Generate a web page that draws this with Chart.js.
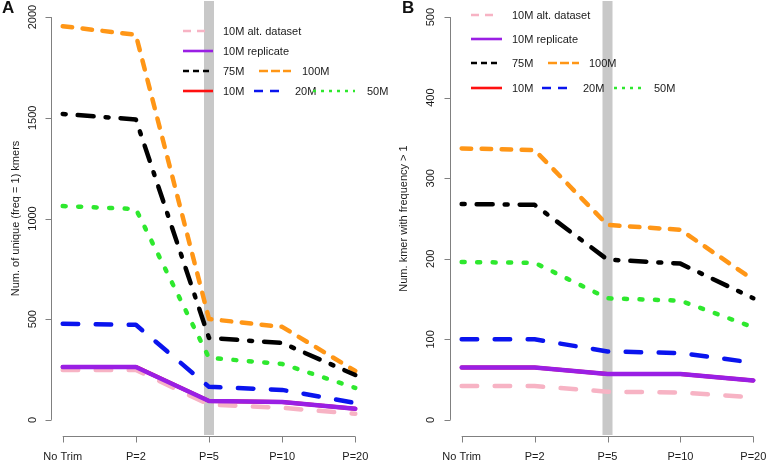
<!DOCTYPE html>
<html>
<head>
<meta charset="utf-8">
<script src="https://cdn.jsdelivr.net/npm/chart.js@4.4.0/dist/chart.umd.min.js"></script>
<style>
  html,body{margin:0;padding:0;background:#fff;}
  #wrap{position:relative;width:767px;height:462px;overflow:hidden;}
  .panel{position:absolute;top:0;height:462px;}
  #panelA{left:0;width:400px;}
  #panelB{left:383px;width:384px;}
  .tag{position:absolute;top:-2px;font:bold 17px "Liberation Sans",Arial,sans-serif;color:#111;}
</style>
</head>
<body>
<div id="wrap">
  <div class="panel" id="panelA"><canvas id="chartA"></canvas></div>
  <div class="panel" id="panelB"><canvas id="chartB"></canvas></div>
  <div class="tag" style="left:2px;">A</div>
  <div class="tag" style="left:402px;">B</div>
</div>
<script>
// trimming settings on the x axis
const categories = ['No Trim', 'P=2', 'P=5', 'P=10', 'P=20'];

// panel A: number of unique (freq = 1) kmers
const uniqueAlt  = [248, 248, 76, 60, 30];
const uniqueRep  = [263, 263, 94, 89, 55];
const unique10M  = [263, 263, 94, 89, 55];
const unique20M  = [477, 472, 164, 149, 84];
const unique50M  = [1062, 1047, 308, 278, 159];
const unique75M  = [1519, 1492, 407, 382, 223];
const unique100M = [1955, 1912, 501, 462, 243];
const uniqueTicks = [0, 500, 1000, 1500, 2000];

// panel B: number of kmers with frequency > 1
const multiAlt  = [42, 42, 35, 34, 28];
const multiRep  = [65, 65, 57, 57, 49];
const multi10M  = [65, 65, 57, 57, 49];
const multi20M  = [100, 100, 85, 83, 71];
const multi50M  = [196, 195, 151, 148, 115];
const multi75M  = [268, 267, 199, 194, 151];
const multi100M = [337, 335, 242, 236, 174];
const multiTicks = [0, 100, 200, 300, 400, 500];

// draw order: first one ends up on top
const seriesNames = ['10M replicate', '10M alt. dataset', '10M', '20M', '50M', '75M', '100M'];

const styles = {
  '10M replicate':    {color:'#9a1fe4', width:4.5, dash:[],              legendDash:[]},
  '10M alt. dataset': {color:'#f7b3c4', width:4.5, dash:[15.5,17.5],     legendDash:[8,6]},
  '10M':              {color:'#ff1010', width:4,   dash:[],              legendDash:[]},
  '20M':              {color:'#0a14ee', width:4.5, dash:[15.5,17.5],     legendDash:[9,7]},
  '50M':              {color:'#2ee82e', width:4.5, dash:[3,12.5],        legendDash:[3,5]},
  '75M':              {color:'#000000', width:4.5, dash:[3,12,16,12],    legendDash:[6,4]},
  '100M':             {color:'#ff9616', width:4.5, dash:[9.5,10.5],      legendDash:[9,3]}
};

const FONT = '"Liberation Sans", Arial, Helvetica, sans-serif';
const AXIS_COL = '#808080';
const TEXT_COL = '#1a1a1a';

function makeDatasets(valueLists) {
  return valueLists.map((vals, k) => {
    const st = styles[seriesNames[k]];
    return {
      label: seriesNames[k],
      data: vals.map((v, i) => ({x: i, y: v})),
      borderColor: st.color,
      borderWidth: st.width,
      borderDash: st.dash,
      borderCapStyle: 'round',
      borderJoinStyle: 'round',
      pointRadius: 0,
      tension: 0,
      fill: false
    };
  });
}

// R-style plot: grey marker band, detached axes, free-placed legend
const rPlot = {
  id: 'rPlot',
  beforeDatasetsDraw(chart, args, o) {
    const {ctx, chartArea: a, scales: {x}} = chart;
    const cx = x.getPixelForValue(o.bandAt);
    ctx.save();
    ctx.fillStyle = '#c8c8c8';
    ctx.fillRect(cx - 5, a.top, 10, a.bottom - a.top - 1);
    ctx.restore();
  },
  afterDatasetsDraw(chart, args, o) {
    const {ctx, chartArea: a, scales: {x, y}} = chart;
    ctx.save();
    ctx.strokeStyle = AXIS_COL;
    ctx.lineWidth = 1;
    ctx.fillStyle = TEXT_COL;
    ctx.font = '11px ' + FONT;

    // y axis
    const ax = Math.round(a.left) + 0.5;
    const y0 = y.getPixelForValue(o.ticks[0]);
    const y1 = y.getPixelForValue(o.ticks[o.ticks.length - 1]);
    ctx.beginPath();
    ctx.moveTo(ax, y0); ctx.lineTo(ax, y1);
    o.ticks.forEach(t => {
      const py = Math.round(y.getPixelForValue(t)) + 0.5;
      ctx.moveTo(ax, py); ctx.lineTo(ax - 6, py);
    });
    ctx.stroke();
    ctx.textAlign = 'center';
    ctx.textBaseline = 'middle';
    o.ticks.forEach(t => {
      ctx.save();
      ctx.translate(o.tickX, y.getPixelForValue(t));
      ctx.rotate(-Math.PI / 2);
      ctx.fillText(String(t), 0, 0);
      ctx.restore();
    });
    ctx.save();
    ctx.translate(o.titleX, (y0 + y1) / 2);
    ctx.rotate(-Math.PI / 2);
    ctx.fillText(o.title, 0, 0);
    ctx.restore();

    // x axis
    const by = Math.round(a.bottom) + 0.5;
    ctx.beginPath();
    ctx.moveTo(x.getPixelForValue(0), by);
    ctx.lineTo(x.getPixelForValue(categories.length - 1), by);
    categories.forEach((c, i) => {
      const px = Math.round(x.getPixelForValue(i)) + 0.5;
      ctx.moveTo(px, by); ctx.lineTo(px, by + 6);
    });
    ctx.stroke();
    categories.forEach((c, i) => ctx.fillText(c, x.getPixelForValue(i), by + 20));

    // legend
    ctx.textAlign = 'left';
    o.legend.forEach(row => {
      row.forEach(it => {
        const st = styles[it.name];
        ctx.save();
        ctx.strokeStyle = st.color;
        ctx.lineWidth = 2.6;
        ctx.lineCap = 'butt';
        ctx.setLineDash(st.legendDash);
        ctx.beginPath();
        ctx.moveTo(it.x0, it.y); ctx.lineTo(it.x1, it.y);
        ctx.stroke();
        ctx.restore();
        ctx.fillText(it.name, it.tx, it.y + 1);
      });
    });
    ctx.restore();
  }
};

function legendRows(ys, cols) {
  // cols: per row list of [name, x0, x1, textX]
  return cols.map((row, r) => row.map(([name, x0, x1, tx]) => ({name, x0, x1, tx, y: ys[r]})));
}

function makeChart(id, valueLists, yMin, yMax, pad, o) {
  return new Chart(document.getElementById(id), {
    type: 'line',
    data: {datasets: makeDatasets(valueLists)},
    options: {
      responsive: true,
      maintainAspectRatio: false,
      animation: false,
      layout: {padding: pad},
      scales: {
        x: {type: 'linear', min: -0.16, max: categories.length - 1 + 0.16, display: false},
        y: {type: 'linear', min: yMin, max: yMax, display: false}
      },
      plugins: {legend: {display: false}, tooltip: {enabled: false}, rPlot: o}
    },
    plugins: [rPlot]
  });
}

makeChart('chartA',
  [uniqueRep, uniqueAlt, unique10M, unique20M, unique50M, unique75M, unique100M],
  -80, 2080, {left: 51, right: 33, top: 1, bottom: 26},
  {
    bandAt: 2, ticks: uniqueTicks, tickX: 33, titleX: 16,
    title: 'Num. of unique (freq = 1) kmers',
    legend: legendRows([31, 51, 71, 91], [
      [['10M alt. dataset', 183, 209, 223]],
      [['10M replicate', 183, 213, 223]],
      [['75M', 183, 209, 223], ['100M', 259, 291, 302]],
      [['10M', 183, 213, 223], ['20M', 254, 281, 295], ['50M', 313, 355, 367]]
    ])
  });

makeChart('chartB',
  [multiRep, multiAlt, multi10M, multi20M, multi50M, multi75M, multi100M],
  -20, 520, {left: 67, right: 2, top: 1, bottom: 26},
  {
    bandAt: 2, ticks: multiTicks, tickX: 48, titleX: 21,
    title: 'Num. kmer with frequency > 1',
    legend: legendRows([15, 39, 63, 88], [
      [['10M alt. dataset', 88, 114, 129]],
      [['10M replicate', 88, 119, 129]],
      [['75M', 88, 114, 129], ['100M', 165, 196, 206]],
      [['10M', 88, 119, 129], ['20M', 159, 186, 200], ['50M', 231, 260, 271]]
    ])
  });
</script>
</body>
</html>
